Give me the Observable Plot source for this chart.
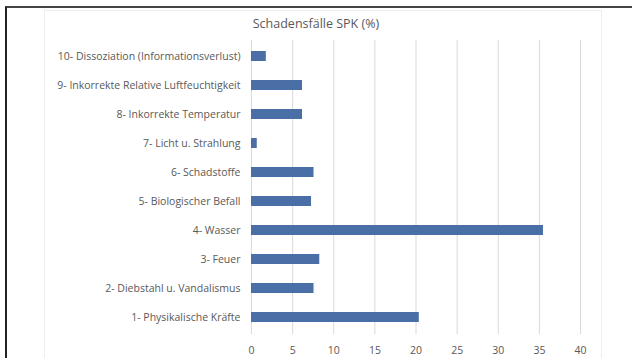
<!DOCTYPE html>
<html>
<head>
<meta charset="utf-8">
<script src="https://cdn.jsdelivr.net/npm/d3@7"></script>
<script src="https://cdn.jsdelivr.net/npm/@observablehq/plot@0.6"></script>
<style>
  html, body { margin: 0; padding: 0; background: #fff; }
  #wrap { position: relative; width: 632px; height: 358px; overflow: hidden; font-family: "Open Sans", Lato, sans-serif; }
  #edge { position: absolute; left: 5px; top: 6px; right: 0; bottom: 0; border-left: 2px solid #222; border-top: 2px solid #444; }
  #panel { position: absolute; left: 44px; top: 10px; width: 556px; height: 350px; border: 1px solid #eee; }
  #title { position: absolute; left: 0; width: 632px; top: 15px; text-align: center; font-size: 12.5px; color: #595959; }
  #chart { position: absolute; left: 0; top: 0; }
</style>
</head>
<body>
<div id="wrap">
  <div id="edge"></div>
  <div id="panel"></div>
  <div id="chart"></div>
  <div id="title">Schadensfälle SPK (%)</div>
</div>
<script>
// Schadensursachen, von oben nach unten
const categories = [
  "10- Dissoziation (Informationsverlust)",
  "9- Inkorrekte Relative Luftfeuchtigkeit",
  "8- Inkorrekte Temperatur",
  "7- Licht u. Strahlung",
  "6- Schadstoffe",
  "5- Biologischer Befall",
  "4- Wasser",
  "3- Feuer",
  "2- Diebstahl u. Vandalismus",
  "1- Physikalische Kräfte"
];
// Anteil der Schadensfälle in Prozent
const shares = [1.8, 6.2, 6.2, 0.7, 7.6, 7.3, 35.5, 8.3, 7.6, 20.4];
const xTicks = [0, 5, 10, 15, 20, 25, 30, 35, 40];

const rows = categories.map((c, i) => ({cause: c, share: shares[i]}));

const chart = Plot.plot({
  width: 632,
  height: 358,
  marginLeft: 251,
  marginRight: 52,
  marginTop: 40,
  marginBottom: 24,
  style: {fontFamily: "'Open Sans', Lato, sans-serif", fontSize: "10.5px", color: "#595959", background: "transparent"},
  x: {domain: [0, 40], ticks: xTicks, tickSize: 0, tickPadding: 12, label: null},
  y: {domain: categories, paddingInner: 0.64, paddingOuter: 0.32, tickSize: 0, tickPadding: 11, label: null},
  marks: [
    Plot.gridX(xTicks, {stroke: "#d9d9d9", strokeOpacity: 1}),
    Plot.barX(rows, {x: "share", y: "cause", fill: "#4a6fa6"})
  ]
});
document.getElementById("chart").appendChild(chart);
</script>
</body>
</html>
